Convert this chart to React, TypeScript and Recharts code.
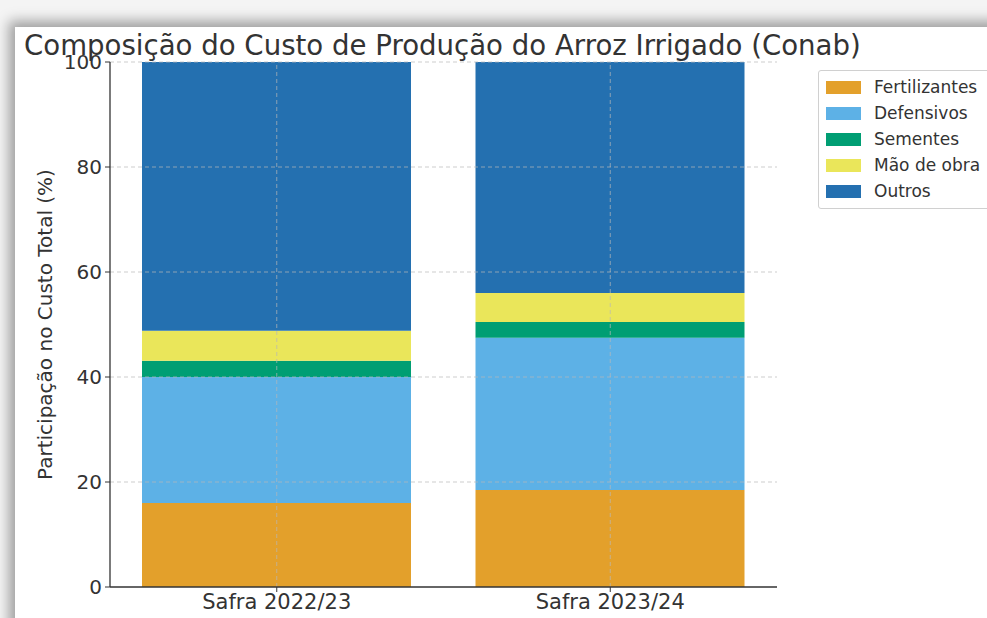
import { Bar, BarChart, ReferenceLine, XAxis, YAxis } from "recharts";

// Values (share of total cost, %)
const categories = ["Safra 2022/23", "Safra 2023/24"];
const fertilizantes = [16, 18.5];
const defensivos = [24, 29];
const sementes = [3.1, 3];
const maoDeObra = [5.7, 5.5];
const outros = [51.2, 44];
const yTicks = [0, 20, 40, 60, 80, 100];

const seriesKeys = ["fertilizantes", "defensivos", "sementes", "maoDeObra", "outros"];
const seriesNames = ["Fertilizantes", "Defensivos", "Sementes", "Mão de obra", "Outros"];
const seriesColors = ["#E3A02B", "#5DB1E6", "#009E73", "#EAE65A", "#2470B0"];

const data = categories.map((name, i) => ({
  name,
  fertilizantes: fertilizantes[i],
  defensivos: defensivos[i],
  sementes: sementes[i],
  maoDeObra: maoDeObra[i],
  outros: outros[i],
}));

const FONT = "'DejaVu Sans', sans-serif";
const TEXT = "#333";

function LegendBox() {
  return (
    <div
      style={{
        position: "absolute",
        left: 818,
        top: 70,
        width: 178,
        background: "#fff",
        border: "1px solid #d0d0d0",
        borderRadius: 3,
        padding: "3px 0 4px 7px",
        boxSizing: "border-box",
        fontFamily: FONT,
        fontSize: 17,
        color: TEXT,
      }}
    >
      {seriesNames.map((n, i) => (
        <div key={n} style={{ display: "flex", alignItems: "center", height: 26 }}>
          <span style={{ width: 35, height: 13, background: seriesColors[i], marginRight: 13 }} />
          <span>{n}</span>
        </div>
      ))}
    </div>
  );
}

export default function App() {
  return (
    <div style={{ position: "absolute", left: 0, top: 0, width: 987, height: 618, overflow: "hidden", background: "#f4f4f4" }}>
      {/* screenshot card with shadow */}
      <div
        style={{
          position: "absolute",
          left: 15,
          top: 27,
          width: 1100,
          height: 800,
          background: "#fff",
          boxShadow: "-3px -3px 12px 3px rgba(0,0,0,0.35)",
        }}
      />
      <div
        style={{
          position: "absolute",
          left: 24,
          top: 32,
          fontFamily: FONT,
          fontSize: 27.6,
          lineHeight: "27px",
          color: TEXT,
          whiteSpace: "nowrap",
        }}
      >
        Composição do Custo de Produção do Arroz Irrigado (Conab)
      </div>
      <div style={{ position: "absolute", left: 0, top: 0 }}>
        <BarChart
          width={987}
          height={618}
          data={data}
          margin={{ top: 62, right: 210, bottom: 0, left: 50 }}
          barSize={269}
        >
          <XAxis
            dataKey="name"
            height={31}
            stroke={TEXT}
            tickSize={5}
            tickMargin={2}
            tick={{ fill: TEXT, fontSize: 21, fontFamily: FONT }}
            axisLine={{ stroke: TEXT, strokeWidth: 1.3 }}
          />
          <YAxis
            width={60}
            domain={[0, 100]}
            ticks={yTicks}
            stroke={TEXT}
            tickSize={5}
            tickMargin={3}
            tick={{ fill: TEXT, fontSize: 20, fontFamily: FONT }}
            axisLine={{ stroke: TEXT, strokeWidth: 1.3 }}
            label={(props: any) => {
              const vb = props.viewBox || {};
              const cy = (vb.y ?? 62) + (vb.height ?? 525) / 2;
              return (
                <text
                  x={45}
                  y={cy}
                  transform={`rotate(-90 45 ${cy})`}
                  textAnchor="middle"
                  dominantBaseline="central"
                  fill={TEXT}
                  fontSize={20}
                  fontFamily={FONT}
                >
                  Participação no Custo Total (%)
                </text>
              );
            }}
          />
          {seriesKeys.map((k, i) => (
            <Bar
              key={k}
              dataKey={k}
              name={seriesNames[i]}
              stackId="a"
              fill={seriesColors[i]}
              isAnimationActive={false}
            />
          ))}
          {/* dashed grid drawn over the bars */}
          {yTicks.slice(1).map((t) => (
            <ReferenceLine key={t} y={t} stroke="#b8b8b8" strokeOpacity={0.7} strokeDasharray="4 3" />
          ))}
          {categories.map((c) => (
            <ReferenceLine key={c} x={c} stroke="#b8b8b8" strokeOpacity={0.7} strokeDasharray="4 3" />
          ))}
        </BarChart>
      </div>
      <LegendBox />
    </div>
  );
}
